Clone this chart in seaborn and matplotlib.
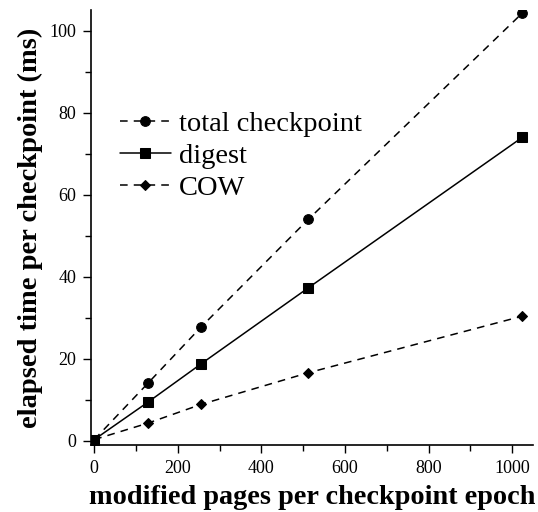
import matplotlib
matplotlib.use("Agg")
import matplotlib.pyplot as plt
import seaborn as sns
import pandas as pd
from matplotlib.ticker import MultipleLocator

pages = [0, 128, 256, 512, 1024]
total_checkpoint = [0.3, 14.0, 27.8, 54.0, 104.3]
digest = [0.3, 9.4, 18.8, 37.3, 74.0]
cow = [0.3, 4.3, 8.9, 16.6, 30.4]

sns.set_style("ticks")
plt.rcParams['font.family'] = ['Liberation Serif', 'DejaVu Serif']
plt.rcParams['text.color'] = 'black'
plt.rcParams['axes.labelcolor'] = 'black'

fig = plt.figure(figsize=(5.38, 5.12), dpi=100)
ax = fig.add_axes([0.169, 0.131, 0.822, 0.849])

series = [
    ("total checkpoint", total_checkpoint, "o", (5, 4), 7),
    ("digest", digest, "s", None, 7),
    ("COW", cow, "D", (5, 4), 5),
]
for name, vals, mk, dash, ms in series:
    df = pd.DataFrame({"x": pages, "y": vals})
    sns.lineplot(data=df, x="x", y="y", ax=ax, color="black", marker=mk,
                 markersize=ms, markeredgecolor="black", linewidth=1.1,
                 label=name)
    l = ax.lines[-1]
    if dash:
        l.set_dashes(dash)

ax.set_xlim(-8, 1050)
ax.set_ylim(-1, 105)
ax.xaxis.set_major_locator(MultipleLocator(200))
ax.xaxis.set_minor_locator(MultipleLocator(100))
ax.yaxis.set_major_locator(MultipleLocator(20))
ax.yaxis.set_minor_locator(MultipleLocator(10))
ax.tick_params(which="major", length=6, width=1, direction="out", labelsize=13,
               colors="black", labelcolor="black", pad=4.5)
ax.tick_params(which="minor", length=4, width=1, direction="out", colors="black")
for s in ["top", "right"]:
    ax.spines[s].set_visible(False)
for s in ["left", "bottom"]:
    ax.spines[s].set_color("black")
    ax.spines[s].set_linewidth(1.2)

ax.set_xlabel("modified pages per checkpoint epoch", fontsize=20.3,
              fontweight="bold", labelpad=6)
ax.set_ylabel("elapsed time per checkpoint (ms)", fontsize=20.5,
              fontweight="bold", labelpad=5)

leg = ax.legend(loc="upper left", bbox_to_anchor=(0.039, 0.795), frameon=False,
                fontsize=20.5, handlelength=1.8, handletextpad=0.3,
                labelspacing=0.22, borderaxespad=0)
for t in leg.get_texts():
    t.set_color("black")

fig.savefig("out.png", dpi=100)
